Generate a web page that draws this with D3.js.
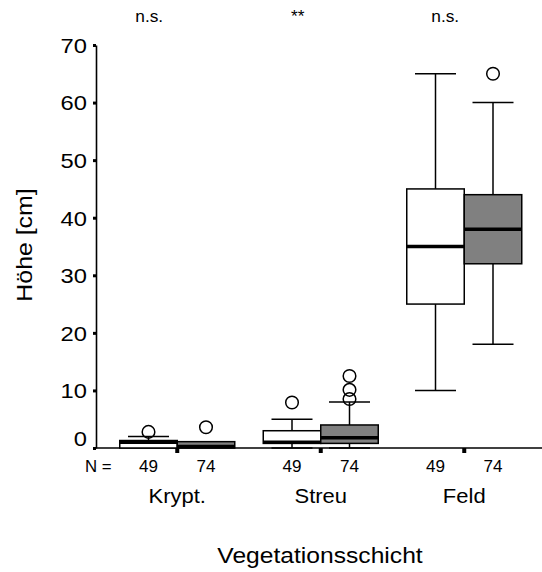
<!DOCTYPE html>
<html><head><meta charset="utf-8">
<script src="https://cdn.jsdelivr.net/npm/d3@7"></script>
<style>body{margin:0;background:#fff}svg{display:block;font-family:"Liberation Sans",Arial,sans-serif}</style>
</head><body><svg id="c" width="542" height="572"></svg>
<script>
const categories = ["Krypt.", "Streu", "Feld"];
const groups = ["g1", "g2"];
const nCounts = [49, 74];
const significance = ["n.s.", "**", "n.s."];
// [min, q1, median, q3, max] per category
const statsG1 = [[0, 0, 1.0, 1.3, 2], [0, 0.8, 1.0, 3.0, 5], [10, 25, 35, 45, 65]];
const statsG2 = [[0, 0, 0, 1.1, 1.1], [0, 0.8, 1.8, 4.0, 8], [18, 32, 38, 44, 60]];
const outliersG1 = [[2.8], [7.9], []];
const outliersG2 = [[3.6], [8.5, 10.1, 12.5], [65]];
const yTicks = [0, 10, 20, 30, 40, 50, 60, 70];
const fills = ["#ffffff", "#808080"];

const svg = d3.select("#c");
const x = d3.scaleBand().domain(categories).range([105.5, 536]).padding(0);
const boxW = 57.5;
const x1 = d3.scaleBand().domain(groups).range([-boxW, boxW]).padding(0);
const y = d3.scaleLinear().domain([0, 70]).range([448, 45]);
const cx = c => x(c) + x.bandwidth() / 2;

function label(px, py, txt, size, sx, anchor, rot) {
  const g = svg.append("g").attr("transform", `translate(${px},${py})` + (rot ? ` rotate(${rot})` : "") + ` scale(${sx},1)`);
  g.append("text").attr("font-size", size).attr("text-anchor", anchor || "middle").attr("fill", "#000").text(txt);
  return g;
}

// Y axis
const yAxis = svg.append("g").attr("transform", "translate(96,0)")
  .call(d3.axisLeft(y).tickValues(yTicks).tickSize(3).tickSizeOuter(0).tickPadding(5));
yAxis.select(".domain").attr("stroke", "#000").attr("stroke-width", 1.6);
yAxis.selectAll(".tick line").attr("stroke", "#000").attr("stroke-width", 3);
yAxis.selectAll(".tick text").attr("font-size", 21).attr("fill", "#000")
  .attr("font-family", "Liberation Sans, Arial, sans-serif")
  .attr("transform", "scale(1.13,1)")
  .attr("dy", d => d === 0 ? "-0.12em" : "0.35em");

// X axis line
svg.append("line").attr("x1", 95).attr("x2", 542).attr("y1", y(0)).attr("y2", y(0))
  .attr("stroke", "#000").attr("stroke-width", 1.6);
svg.selectAll(".xtick").data(categories).join("rect").attr("class", "xtick")
  .attr("x", d => cx(d) - 2).attr("y", y(0)).attr("width", 4).attr("height", 5).attr("fill", "#000");

// boxes
const allStats = [statsG1, statsG2];
const allOut = [outliersG1, outliersG2];
groups.forEach((g, gi) => {
  categories.forEach((c, ci) => {
    const [mn, q1, med, q3, mx] = allStats[gi][ci];
    const left = cx(c) + x1(g);
    const mid = left + boxW / 2;
    const capW = 41;
    const grp = svg.append("g");
    if (mx > q3) {
      grp.append("line").attr("x1", mid).attr("x2", mid).attr("y1", y(q3)).attr("y2", y(mx)).attr("stroke", "#000").attr("stroke-width", 1.5);
      grp.append("line").attr("x1", mid - capW / 2).attr("x2", mid + capW / 2).attr("y1", y(mx)).attr("y2", y(mx)).attr("stroke", "#000").attr("stroke-width", 1.5);
    }
    if (mn < q1) {
      grp.append("line").attr("x1", mid).attr("x2", mid).attr("y1", y(q1)).attr("y2", y(mn)).attr("stroke", "#000").attr("stroke-width", 1.5);
      grp.append("line").attr("x1", mid - capW / 2).attr("x2", mid + capW / 2).attr("y1", y(mn)).attr("y2", y(mn)).attr("stroke", "#000").attr("stroke-width", 1.5);
    }
    grp.append("rect").attr("x", left).attr("width", boxW).attr("y", y(q3)).attr("height", y(q1) - y(q3))
      .attr("fill", fills[gi]).attr("stroke", "#000").attr("stroke-width", 1.5);
    const my = Math.min(Math.max(y(med), y(q3) + 1.5), y(0) - 1.5);
    grp.append("line").attr("x1", left).attr("x2", left + boxW).attr("y1", my).attr("y2", my)
      .attr("stroke", "#000").attr("stroke-width", 3.5);
    allOut[gi][ci].forEach(v => {
      grp.append("circle").attr("cx", mid).attr("cy", y(v)).attr("r", 6.3)
        .attr("fill", "none").attr("stroke", "#000").attr("stroke-width", 1.5);
    });
  });
});

// N labels
label(85, 472, "N =", 16, 1.05, "start");
categories.forEach(c => {
  groups.forEach((g, gi) => {
    label(cx(c) + x1(g) + boxW / 2, 472, String(nCounts[gi]), 16, 1.07);
  });
  label(cx(c), 503, c, 20, 1.1);
});

// significance labels
const sigOffset = [-28, -23, -19];
categories.forEach((c, i) => {
  label(cx(c) + sigOffset[i], 22, significance[i], 16, 1.08);
});

// axis titles
label(320, 563, "Vegetationsschicht", 22, 1.12);
label(32, 245, "Höhe [cm]", 22, 1.13, "middle", -90);
</script></body></html>
